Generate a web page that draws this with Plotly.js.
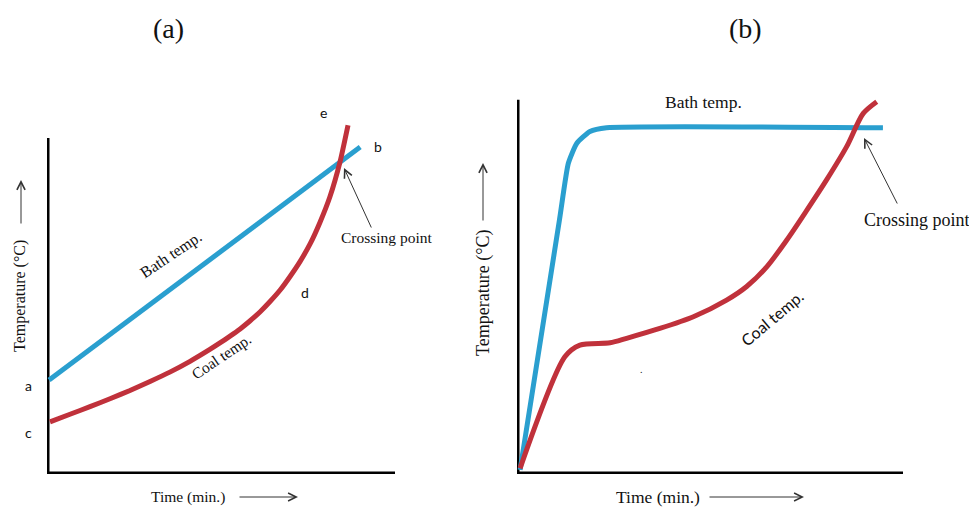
<!DOCTYPE html>
<html>
<head>
<meta charset="utf-8">
<script src="https://cdn.plot.ly/plotly-3.0.1.min.js"></script>
<style>html,body{margin:0;padding:0;background:#fff}#chart{width:969px;height:508px}</style>
</head>
<body>
<div id="chart"></div>
<script>
// Panel (a): arbitrary time / temperature units (0-100)
const bathA_x = [0.6, 90];
const bathA_y = [26.1, 90.8];
const coalA_x = [0.86, 6.61, 12.36, 18.1, 23.85, 29.6, 35.3, 41.1, 46.8, 49.7, 52.6, 55.5, 58.3, 61.2, 64.1, 67.0, 69.8, 72.7, 75.6, 78.4, 81.3, 84.2, 86.5];
const coalA_y = [14.5, 16.6, 18.7, 20.9, 23.2, 25.7, 28.3, 31.3, 34.6, 36.4, 38.3, 40.3, 42.5, 45.0, 47.9, 51.1, 54.8, 59.0, 63.9, 69.8, 77.0, 86.7, 96.9];

// Panel (b)
const bathB_x = [0.8, 11.0, 13.3, 15.5, 18.9, 23.2, 94.8];
const bathB_y = [1.1, 67.2, 82.2, 87.5, 90.6, 91.6, 91.6];
const coalB_x = [0.8, 12.4, 16.3, 24.1, 28.4, 37.0, 45.7, 54.3, 59.5, 64.7, 69.9, 75.1, 80.2, 85.4, 89.7, 93.2];
const coalB_y = [1.5, 31.0, 34.1, 34.7, 35.9, 38.5, 41.6, 46.0, 49.6, 54.8, 61.9, 69.8, 77.8, 86.6, 95.4, 98.5];

const BLUE = '#2a9fcf';
const RED = '#c0313b';
const SERIF = 'Liberation Serif, Times New Roman, serif';
const SANS = 'Lato, Open Sans, sans-serif';

const traces = [
  {x: bathA_x, y: bathA_y, xaxis: 'x', yaxis: 'y', mode: 'lines', line: {color: BLUE, width: 5}},
  {x: coalA_x, y: coalA_y, xaxis: 'x', yaxis: 'y', mode: 'lines', line: {color: RED, width: 5, shape: 'spline', smoothing: 0.5}},
  {x: bathB_x, y: bathB_y, xaxis: 'x2', yaxis: 'y2', mode: 'lines', line: {color: BLUE, width: 5, shape: 'spline', smoothing: 0.5}},
  {x: coalB_x, y: coalB_y, xaxis: 'x2', yaxis: 'y2', mode: 'lines', line: {color: RED, width: 5, shape: 'spline', smoothing: 0.8}}
];

function ax(domain, anchor) {
  return {domain: domain, anchor: anchor, range: [0, 100], showgrid: false, zeroline: false,
          showticklabels: false, ticks: '', showline: false, fixedrange: true};
}

const shapes = [
  // panel (a) axes
  {type: 'line', xref: 'x', yref: 'y', x0: 0, x1: 0, y0: -0.6, y1: 93.3, line: {color: '#000', width: 5}, layer: 'below'},
  {type: 'line', xref: 'x', yref: 'y', x0: -0.6, x1: 100, y0: 0, y1: 0, line: {color: '#000', width: 5}, layer: 'below'},
  // panel (b) axes
  {type: 'line', xref: 'x2', yref: 'y2', x0: 0, x1: 0, y0: -0.5, y1: 99, line: {color: '#000', width: 5}, layer: 'below'},
  {type: 'line', xref: 'x2', yref: 'y2', x0: -0.5, x1: 100, y0: 0, y1: 0, line: {color: '#000', width: 5}, layer: 'below'}
];

function txt(x, y, text, size, font, angle, extra) {
  return Object.assign({xref: 'paper', yref: 'paper', x: x / 969, y: 1 - y / 508, text: text,
    showarrow: false, xanchor: 'center', yanchor: 'middle', textangle: angle || 0,
    font: {family: font, size: size, color: '#111'}}, extra || {});
}
function arrow(x0, y0, x1, y1) {
  return {xref: 'paper', yref: 'paper', axref: 'pixel', ayref: 'pixel',
    x: x1 / 969, y: 1 - y1 / 508, ax: x0 - x1, ay: y0 - y1, text: '', showarrow: true,
    arrowhead: 5, arrowsize: 1.6, arrowwidth: 1, arrowcolor: '#333', standoff: 0, startstandoff: 0};
}

const annotations = [
  txt(168, 28, '(a)', 28, SERIF),
  txt(745, 28, '(b)', 28, SERIF),
  // panel (a)
  txt(171, 255, 'Bath temp.', 16, SERIF, -34),
  txt(221, 356, 'Coal temp.', 15.5, SERIF, -34),
  txt(387, 237, 'Crossing point', 15.5, SERIF),
  txt(323, 112, 'e', 14, SANS),
  txt(378, 147, 'b', 14, SANS),
  txt(305, 292, 'd', 14, SANS),
  txt(28, 385, 'a', 14, SANS),
  txt(28, 432, 'c', 14, SANS),
  txt(20, 296, 'Temperature (°C)', 16, SERIF, -90),
  txt(188, 497, 'Time (min.)', 15.5, SERIF),
  arrow(372, 229, 344, 168),
  arrow(21, 225, 21, 180),
  arrow(238, 497, 298, 497),
  // panel (b)
  txt(703, 102, 'Bath temp.', 17.5, SERIF),
  txt(771, 318, 'Coal temp.', 16, SANS, -40),
  txt(917, 220, 'Crossing point', 18, SERIF),
  txt(483, 293, 'Temperature (°C)', 18, SERIF, -90),
  txt(658, 497, 'Time (min.)', 17.5, SERIF),
  txt(641, 369, '.', 10, SERIF),
  arrow(898, 205, 864, 138),
  arrow(483, 222, 483, 163),
  arrow(708, 497, 804, 497)
];

const layout = {
  width: 969, height: 508,
  margin: {l: 0, r: 0, t: 0, b: 0},
  paper_bgcolor: '#fff', plot_bgcolor: '#fff',
  showlegend: false,
  xaxis: ax([47 / 969, 395 / 969], 'y'),
  yaxis: ax([34 / 508, 394 / 508], 'x'),
  xaxis2: ax([517 / 969, 903 / 969], 'y2'),
  yaxis2: ax([34 / 508, 412 / 508], 'x2'),
  shapes: shapes,
  annotations: annotations
};

Plotly.newPlot('chart', traces, layout, {staticPlot: true, displayModeBar: false});
</script>
</body>
</html>
